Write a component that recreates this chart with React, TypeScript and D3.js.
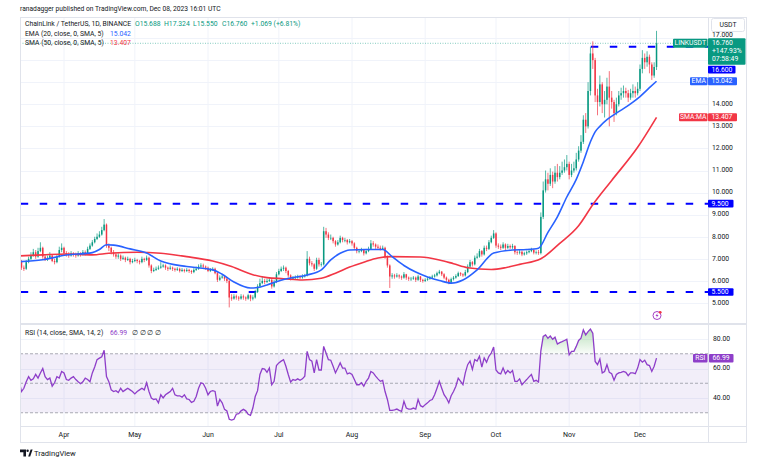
import { useEffect, useRef } from 'react';
import * as d3 from 'd3';

// daily candles from 2023-03-13 to 2023-12-08, open = previous close
const firstOpen = 6.95;
const closes = [
  6.90, 6.60, 6.55, 6.85, 7.00, 7.15, 7.30, 7.10, 7.35, 7.50,
  7.10, 7.00, 7.05, 7.15, 6.90, 6.85, 7.10, 7.40, 7.50, 7.25,
  7.20, 7.15, 7.25, 7.20, 7.15, 7.25, 7.20, 7.30, 7.25, 7.45,
  7.60, 7.75, 7.90, 8.00, 8.10, 8.30, 8.55, 7.60, 7.50, 7.30,
  7.20, 7.10, 7.15, 7.00, 7.05, 6.95, 7.00, 6.85, 6.90, 6.95,
  6.90, 6.85, 7.00, 6.95, 7.05, 6.70, 6.45, 6.50, 6.55, 6.60,
  6.65, 6.70, 6.60, 6.55, 6.60, 6.55, 6.50, 6.55, 6.45, 6.50,
  6.45, 6.50, 6.45, 6.40, 6.50, 6.55, 6.65, 6.70, 6.65, 6.60,
  6.45, 6.50, 6.55, 6.35, 6.05, 6.15, 6.20, 6.10, 6.00, 5.25,
  5.20, 5.30, 5.25, 5.20, 5.30, 5.25, 5.20, 5.35, 5.20, 5.25,
  5.50, 5.75, 5.90, 6.00, 5.95, 6.00, 6.05, 5.75, 5.95, 6.30,
  6.45, 6.55, 6.60, 6.45, 6.25, 6.10, 6.15, 6.15, 6.20, 6.15,
  6.20, 6.25, 7.00, 6.80, 6.75, 6.55, 6.95, 6.75, 6.75, 8.25,
  8.10, 7.95, 7.95, 7.80, 7.65, 7.75, 7.95, 7.85, 7.85, 7.75,
  7.80, 7.70, 7.50, 7.35, 7.35, 7.40, 7.25, 7.35, 7.45, 7.70,
  7.65, 7.55, 7.50, 7.45, 7.50, 7.10, 6.70, 6.20, 6.25, 6.20,
  6.25, 6.20, 6.15, 6.30, 6.15, 6.10, 6.10, 6.15, 6.05, 6.20,
  6.05, 6.00, 6.05, 6.10, 6.15, 6.20, 6.25, 6.35, 6.42, 6.30,
  6.15, 6.05, 5.92, 6.08, 6.15, 6.22, 6.35, 6.30, 6.25, 6.40,
  6.65, 6.85, 6.75, 7.05, 7.10, 7.35, 7.20, 7.50, 7.45, 7.75,
  7.95, 8.15, 7.60, 7.55, 7.50, 7.65, 7.50, 7.58, 7.52, 7.58,
  7.30, 7.28, 7.32, 7.20, 7.25, 7.30, 7.35, 7.40, 7.28, 7.30,
  7.26, 8.90, 10.10, 10.60, 10.40, 10.80, 10.50, 10.90, 10.70, 10.90,
  11.00, 11.15, 11.30, 10.80, 11.00, 11.10, 11.50, 11.90, 12.30, 13.30,
  13.00, 14.60, 16.30, 16.00, 14.40, 14.10, 14.90, 14.00, 14.20, 14.80,
  14.30, 14.10, 13.60, 14.00, 14.40, 14.50, 14.60, 14.50, 14.30, 14.50,
  14.60, 14.50, 14.70, 15.60, 16.10, 15.90, 16.15, 15.80, 15.30, 15.688,
  16.76,
];
const highs = [
  7.05, 6.95, 6.70, 6.95, 7.10, 7.30, 7.45, 7.40, 7.50, 7.75,
  7.55, 7.20, 7.15, 7.30, 7.20, 7.00, 7.20, 7.55, 7.70, 7.55,
  7.35, 7.30, 7.35, 7.30, 7.28, 7.35, 7.30, 7.40, 7.38, 7.55,
  7.70, 7.85, 8.00, 8.15, 8.25, 8.45, 8.80, 8.60, 7.70, 7.55,
  7.40, 7.30, 7.25, 7.20, 7.15, 7.10, 7.10, 7.05, 7.00, 7.05,
  7.00, 6.95, 7.10, 7.05, 7.15, 7.10, 6.75, 6.60, 6.65, 6.70,
  6.85, 6.78, 6.75, 6.65, 6.70, 6.65, 6.60, 6.62, 6.60, 6.58,
  6.55, 6.58, 6.55, 6.50, 6.58, 6.65, 6.75, 6.80, 6.78, 6.70,
  6.65, 6.58, 6.62, 6.60, 6.40, 6.25, 6.30, 6.25, 6.15, 6.05,
  5.40, 5.40, 5.38, 5.32, 5.40, 5.38, 5.30, 5.42, 5.38, 5.35,
  5.60, 5.85, 6.10, 6.20, 6.10, 6.10, 6.15, 6.10, 6.05, 6.40,
  6.55, 6.65, 6.70, 6.65, 6.50, 6.30, 6.22, 6.25, 6.28, 6.25,
  6.30, 6.32, 7.35, 7.10, 6.90, 6.80, 7.05, 7.05, 6.85, 8.45,
  8.40, 8.20, 8.10, 8.00, 7.85, 7.85, 8.05, 8.00, 7.95, 7.90,
  7.90, 7.85, 7.75, 7.55, 7.45, 7.50, 7.45, 7.45, 7.55, 7.85,
  7.80, 7.70, 7.65, 7.60, 7.60, 7.55, 7.15, 6.75, 6.35, 6.32,
  6.35, 6.30, 6.25, 6.40, 6.32, 6.20, 6.18, 6.22, 6.20, 6.28,
  6.22, 6.10, 6.12, 6.18, 6.22, 6.28, 6.32, 6.42, 6.50, 6.45,
  6.35, 6.20, 6.10, 6.15, 6.22, 6.30, 6.42, 6.40, 6.35, 6.50,
  6.75, 6.95, 6.90, 7.15, 7.25, 7.45, 7.40, 7.60, 7.60, 7.85,
  8.05, 8.30, 8.20, 7.70, 7.65, 7.75, 7.70, 7.68, 7.65, 7.68,
  7.62, 7.38, 7.40, 7.38, 7.32, 7.38, 7.45, 7.50, 7.45, 7.38,
  7.40, 9.10, 10.50, 11.00, 10.90, 11.10, 10.95, 11.20, 11.30, 11.20,
  11.40, 11.50, 11.70, 11.40, 11.30, 11.40, 11.80, 12.10, 12.60, 13.50,
  13.60, 15.00, 16.60, 16.85, 16.10, 14.70, 15.30, 15.00, 14.60, 15.20,
  15.50, 14.60, 14.20, 14.30, 14.60, 14.75, 14.85, 14.75, 14.65, 14.70,
  14.90, 14.80, 15.00, 15.80, 16.45, 16.30, 16.40, 16.25, 15.90, 15.90,
  17.324,
];
const lows = [
  6.80, 6.50, 6.45, 6.50, 6.80, 6.95, 7.10, 7.00, 7.05, 7.30,
  7.00, 6.90, 6.90, 7.00, 6.85, 6.75, 6.80, 7.05, 7.30, 7.15,
  7.10, 7.05, 7.10, 7.10, 7.05, 7.10, 7.10, 7.15, 7.15, 7.20,
  7.40, 7.55, 7.70, 7.85, 7.95, 8.05, 8.25, 7.50, 7.35, 7.20,
  7.10, 7.00, 7.00, 6.90, 6.95, 6.85, 6.90, 6.75, 6.80, 6.85,
  6.80, 6.75, 6.80, 6.85, 6.90, 6.60, 6.35, 6.40, 6.45, 6.50,
  6.55, 6.60, 6.50, 6.45, 6.50, 6.45, 6.42, 6.45, 6.38, 6.40,
  6.38, 6.40, 6.36, 6.32, 6.35, 6.45, 6.50, 6.60, 6.55, 6.50,
  6.40, 6.40, 6.45, 6.30, 5.95, 6.00, 6.10, 6.00, 5.90, 4.80,
  5.10, 5.15, 5.15, 5.10, 5.15, 5.15, 5.10, 5.15, 5.08, 5.12,
  5.20, 5.45, 5.70, 5.85, 5.85, 5.90, 5.95, 5.65, 5.70, 5.90,
  6.25, 6.40, 6.45, 6.35, 6.15, 6.02, 6.05, 6.08, 6.10, 6.08,
  6.10, 6.15, 6.20, 6.70, 6.65, 6.45, 6.50, 6.65, 6.65, 6.70,
  7.95, 7.85, 7.85, 7.70, 7.55, 7.60, 7.70, 7.75, 7.75, 7.65,
  7.70, 7.60, 7.40, 7.25, 7.25, 7.30, 7.15, 7.20, 7.30, 7.40,
  7.55, 7.45, 7.40, 7.38, 7.40, 7.00, 6.60, 5.68, 6.10, 6.10,
  6.15, 6.10, 6.05, 6.10, 6.05, 6.00, 6.00, 6.05, 5.95, 6.00,
  5.95, 5.92, 5.95, 6.00, 6.05, 6.10, 6.15, 6.20, 6.30, 6.22,
  6.08, 5.95, 5.85, 5.88, 6.02, 6.10, 6.18, 6.22, 6.18, 6.20,
  6.35, 6.60, 6.65, 6.70, 7.00, 7.05, 7.10, 7.15, 7.35, 7.40,
  7.70, 7.90, 7.50, 7.45, 7.40, 7.45, 7.40, 7.45, 7.45, 7.45,
  7.20, 7.18, 7.20, 7.12, 7.15, 7.18, 7.25, 7.30, 7.20, 7.20,
  7.18, 7.20, 8.80, 10.00, 10.10, 10.30, 10.20, 10.40, 10.50, 10.60,
  10.80, 10.90, 11.00, 10.60, 10.70, 10.90, 11.00, 11.40, 11.80, 12.20,
  12.70, 12.90, 14.40, 15.60, 14.10, 13.50, 13.90, 13.60, 13.40, 14.00,
  13.00, 13.80, 13.20, 13.50, 13.90, 14.20, 14.30, 14.30, 14.10, 14.20,
  14.30, 14.30, 14.40, 14.60, 15.40, 15.60, 15.70, 15.40, 15.10, 15.20,
  15.55,
];

const rsiValues = [
  51.2, 44.4, 46.6, 51, 54.5, 52, 53, 56, 53.5, 57,
  60, 54.5, 52.5, 53.5, 48, 50.3, 54.5, 53.5, 58, 57,
  52.5, 52, 53.5, 54.5, 52.5, 51, 49.7, 51, 53.5, 52.5,
  51, 57, 61, 66, 67, 68, 72.4, 54.5, 51, 45.5,
  44.4, 45, 43.7, 46.6, 44.4, 45.5, 46.6, 45.5, 44.4, 42.8,
  44.4, 45.5, 46.6, 45.5, 50.3, 44.4, 40, 39, 39.4, 36.7,
  42.2, 40, 42.2, 43.3, 44.4, 46.6, 42.2, 41.5, 41.5, 40.6,
  42.2, 39.4, 39, 37, 37.8, 41, 46.6, 50.3, 49.7, 46.6,
  42.2, 44.4, 45, 44.4, 34.5, 39, 36.7, 32.3, 31.3, 25.6,
  25, 25.6, 29, 29.4, 31.3, 32.3, 31.3, 29, 28.3, 33.2,
  41, 45, 56, 60, 59.6, 57.4, 60.3, 49, 51.3, 62,
  63.8, 65, 66, 61.5, 55.9, 50.8, 52.5, 52, 53, 52,
  53, 54.8, 71.6, 66, 65, 57, 66, 59, 59, 75,
  70.5, 66, 65.6, 61.5, 57, 60.3, 63.8, 60.3, 60.3, 56.3,
  57, 55.9, 52.5, 49, 49, 50.3, 48, 51.3, 53.5, 58,
  57, 54.8, 53, 51.3, 52, 44.4, 39, 31.6, 31.6, 32,
  32.5, 31.6, 31, 37.8, 33.2, 32.5, 32.5, 33.2, 32.5, 39,
  34.8, 34, 35.5, 36.7, 38.3, 39, 42.2, 46.6, 51.3, 46.6,
  42.2, 40, 36.7, 41.5, 44.4, 48, 53.5, 51.3, 49, 57,
  62.6, 65, 59.3, 66, 65, 68.3, 61, 67.2, 64.3, 68.3,
  70.5, 74.5, 59, 57, 56.3, 60.3, 56.5, 58.6, 57, 58.6,
  51.3, 51.3, 53, 49, 50.8, 52.5, 54.3, 55.9, 51.3, 52,
  50.8, 72, 81.7, 82.8, 80.5, 82, 79.8, 81.2, 76.6, 77.5,
  78.2, 79, 79.8, 69.3, 71.6, 71.6, 75, 79, 80.5, 86.2,
  82.8, 85, 86.7, 84, 64.8, 62.6, 66.4, 57, 58, 62.6,
  57.4, 56.5, 52, 55.9, 57, 57.4, 58, 57.4, 55.1, 57,
  57, 56.5, 60.3, 66, 64.3, 65.6, 62.6, 62, 58, 61.5,
  66.99,
];

// moving averages (day index, value)
const emaDays = [0, 10, 20, 31, 34, 37, 40, 47, 54, 60, 71, 82, 86, 91, 98, 101, 105, 110, 115, 122, 128, 132, 136, 140, 147, 154, 158, 163, 168, 173, 178, 183, 188, 194, 201, 209, 215, 220, 224, 228, 232, 236, 239, 242, 244, 246, 249, 253, 256, 260, 263, 267, 270];
const emaValues = [6.87, 6.96, 7.17, 7.28, 7.42, 7.64, 7.62, 7.45, 7.26, 6.9, 6.65, 6.5, 6.3, 5.95, 5.68, 5.7, 5.82, 6.0, 6.13, 6.27, 6.5, 6.95, 7.25, 7.4, 7.42, 7.42, 7.1, 6.7, 6.4, 6.18, 6.02, 5.9, 6.04, 6.5, 7.26, 7.4, 7.42, 7.48, 8.2, 8.9, 9.8, 10.6, 11.4, 12.3, 12.75, 13.0, 13.3, 13.6, 13.8, 14.1, 14.35, 14.75, 15.042];
const smaDays = [0, 10, 20, 31, 38, 50, 60, 71, 82, 90, 99, 105, 112, 120, 128, 134, 140, 146, 152, 158, 170, 178, 184, 190, 200, 206, 212, 221, 229, 237, 243, 251, 262, 270];
const smaValues = [7.13, 7.18, 7.22, 7.18, 7.25, 7.3, 7.25, 7.1, 6.9, 6.65, 6.28, 6.15, 6.1, 6.04, 6.12, 6.35, 6.63, 6.85, 7.04, 7.1, 7.08, 6.95, 6.78, 6.6, 6.52, 6.6, 6.75, 7.0, 7.7, 8.5, 9.45, 10.55, 12.05, 13.407];

const priceTicks = [5, 6, 7, 8, 9, 10, 11, 12, 13, 14, 15, 16, 17];
const coveredTicks = [15, 16]; // labels hidden behind the price tags
const rsiTicks = [40, 60, 80];
const rsiLevels = [70, 50, 30];
const supportLevels = [9.5, 5.5];
const resistanceLevel = 16.6;
const monthLabels = ['Apr', 'May', 'Jun', 'Jul', 'Aug', 'Sep', 'Oct', 'Nov', 'Dec'];

const GREEN = '#089981';
const RED = '#f23645';
const BLUE_LINE = '#0000ff';
const EMA_BLUE = '#2962ff';
const PURPLE = '#8e3ec9';
const FRAME = '#e0e3eb';
const GRID = '#f0f3fa';
const TEXT = '#131722';
const FONT = 'Roboto, "Noto Sans", sans-serif';

const App = () => {
  const svgRef = useRef(null);
  const width = 768;
  const height = 463;
  const left = 20, right = 708, axisRight = 747;
  const mainTop = 17, mainBottom = 323, rsiTop = 325, rsiBottom = 426, bottom = 443;

  useEffect(() => {
    const svg = d3.select(svgRef.current);
    svg.selectAll('*').remove();

    const start = Date.UTC(2023, 2, 13);
    const day = (i) => new Date(start + i * 864e5);

    const x = d3.scaleUtc()
      .domain([new Date(Date.UTC(2023, 3, 1)), new Date(Date.UTC(2023, 11, 1))])
      .range([64, 640]);
    const y = d3.scaleLinear().domain([5, 17]).range([303, 38]);
    const yr = d3.scaleLinear().domain([40, 80]).range([398, 339]);

    const defs = svg.append('defs');
    defs.append('clipPath').attr('id', 'mainClip')
      .append('rect').attr('x', left).attr('y', mainTop).attr('width', right - left).attr('height', mainBottom - mainTop);
    defs.append('clipPath').attr('id', 'rsiClip')
      .append('rect').attr('x', left).attr('y', rsiTop).attr('width', right - left).attr('height', rsiBottom - rsiTop);
    const grad = defs.append('linearGradient').attr('id', 'obGrad')
      .attr('gradientUnits', 'userSpaceOnUse')
      .attr('x1', 0).attr('x2', 0).attr('y1', yr(90)).attr('y2', yr(70));
    grad.append('stop').attr('offset', 0).attr('stop-color', '#4caf50').attr('stop-opacity', 0.45);
    grad.append('stop').attr('offset', 1).attr('stop-color', '#4caf50').attr('stop-opacity', 0.03);

    svg.append('rect').attr('width', width).attr('height', height).attr('fill', '#fff');

    // month gridlines and labels
    const months = d3.utcMonth.range(new Date(Date.UTC(2023, 3, 1)), new Date(Date.UTC(2023, 11, 2)));
    svg.append('g').selectAll('line').data(months).enter().append('line')
      .attr('x1', d => x(d)).attr('x2', d => x(d))
      .attr('y1', mainTop).attr('y2', rsiBottom)
      .attr('stroke', GRID).attr('stroke-width', 1);
    svg.append('g').selectAll('line').data(priceTicks).enter().append('line')
      .attr('x1', left).attr('x2', right)
      .attr('y1', d => Math.round(y(d)) + 0.5).attr('y2', d => Math.round(y(d)) + 0.5)
      .attr('stroke', GRID);
    svg.append('g').selectAll('line').data(rsiTicks).enter().append('line')
      .attr('x1', left).attr('x2', right)
      .attr('y1', d => Math.round(yr(d)) + 0.5).attr('y2', d => Math.round(yr(d)) + 0.5)
      .attr('stroke', GRID);

    // main pane
    const main = svg.append('g').attr('clip-path', 'url(#mainClip)');

    // last price dotted line
    main.append('line')
      .attr('x1', left).attr('x2', right)
      .attr('y1', y(closes[closes.length - 1])).attr('y2', y(closes[closes.length - 1]))
      .attr('stroke', GREEN).attr('stroke-width', 0.8).attr('stroke-dasharray', '1 1.5').attr('opacity', 0.6);

    // horizontal levels
    main.selectAll('.level').data(supportLevels).enter().append('line')
      .attr('x1', left + 0.7).attr('x2', right)
      .attr('y1', d => y(d)).attr('y2', d => y(d))
      .attr('stroke', BLUE_LINE).attr('stroke-width', 2).attr('stroke-dasharray', '7.5 11.5');
    main.append('line')
      .attr('x1', x(day(243)) - 2).attr('x2', right)
      .attr('y1', y(resistanceLevel)).attr('y2', y(resistanceLevel))
      .attr('stroke', BLUE_LINE).attr('stroke-width', 2).attr('stroke-dasharray', '7.5 11.5');

    // candles
    const candles = closes.map((c, i) => ({
      date: day(i),
      open: i === 0 ? firstOpen : closes[i - 1],
      close: c,
      high: highs[i],
      low: lows[i],
    }));
    const cg = main.append('g');
    cg.selectAll('line').data(candles).enter().append('line')
      .attr('x1', d => x(d.date)).attr('x2', d => x(d.date))
      .attr('y1', d => y(d.high)).attr('y2', d => y(d.low))
      .attr('stroke', d => (d.close >= d.open ? GREEN : RED))
      .attr('stroke-width', 0.7);
    cg.selectAll('rect').data(candles).enter().append('rect')
      .attr('x', d => x(d.date) - 0.75)
      .attr('width', 1.5)
      .attr('y', d => y(Math.max(d.open, d.close)))
      .attr('height', d => Math.max(0.6, Math.abs(y(d.open) - y(d.close))))
      .attr('fill', d => (d.close >= d.open ? GREEN : RED));

    // moving averages
    const maLine = d3.line().curve(d3.curveMonotoneX);
    main.append('path')
      .attr('d', maLine(smaDays.map((d, i) => [x(day(d)), y(smaValues[i])])))
      .attr('fill', 'none').attr('stroke', RED).attr('stroke-width', 1.6);
    main.append('path')
      .attr('d', maLine(emaDays.map((d, i) => [x(day(d)), y(emaValues[i])])))
      .attr('fill', 'none').attr('stroke', EMA_BLUE).attr('stroke-width', 1.6);

    // RSI pane
    const rsi = svg.append('g').attr('clip-path', 'url(#rsiClip)');
    rsi.append('rect')
      .attr('x', left).attr('width', right - left)
      .attr('y', yr(70)).attr('height', yr(30) - yr(70))
      .attr('fill', 'rgba(126,87,194,0.1)');
    rsi.selectAll('.lvl').data(rsiLevels).enter().append('line')
      .attr('x1', left).attr('x2', right)
      .attr('y1', d => yr(d)).attr('y2', d => yr(d))
      .attr('stroke', '#9598a1').attr('stroke-width', 0.8).attr('stroke-dasharray', '3 2');
    const rsiPts = rsiValues.map((v, i) => ({ date: day(i), v }));
    rsi.append('path')
      .attr('d', d3.area()
        .x(d => x(d.date))
        .y0(yr(70))
        .y1(d => yr(Math.max(70, d.v)))(rsiPts))
      .attr('fill', 'url(#obGrad)');
    rsi.append('path')
      .attr('d', d3.line().x(d => x(d.date)).y(d => yr(d.v))(rsiPts))
      .attr('fill', 'none').attr('stroke', PURPLE).attr('stroke-width', 1.3);

    // frame
    const frame = svg.append('g').attr('fill', 'none').attr('stroke', FRAME);
    frame.append('rect').attr('x', left + 0.5).attr('y', mainTop + 0.5)
      .attr('width', axisRight - left - 1).attr('height', bottom - mainTop - 1);
    frame.append('line').attr('x1', right + 0.5).attr('x2', right + 0.5).attr('y1', mainTop).attr('y2', bottom);
    frame.append('line').attr('x1', left).attr('x2', axisRight).attr('y1', mainBottom + 0.5).attr('y2', mainBottom + 0.5);
    frame.append('line').attr('x1', left).attr('x2', axisRight).attr('y1', rsiTop - 0.5).attr('y2', rsiTop - 0.5);
    frame.append('line').attr('x1', left).attr('x2', axisRight).attr('y1', rsiBottom + 0.5).attr('y2', rsiBottom + 0.5);

    const txt = (g, tx, ty, s, color, size = 6.8, anchor = 'start') =>
      g.append('text').attr('x', tx).attr('y', ty).attr('fill', color)
        .attr('font-size', size).attr('font-family', FONT).attr('text-anchor', anchor)
        .attr('dominant-baseline', 'middle').text(s);

    // price axis labels
    const axis = svg.append('g');
    priceTicks
      .filter(t => !coveredTicks.includes(t))
      .forEach(t => txt(axis, 712, t === 17 ? y(t) - 3.2 : y(t), t.toFixed(3), TEXT));
    rsiTicks.forEach(t => txt(axis, 713, yr(t), t.toFixed(2), TEXT));

    // month labels
    months.forEach((m, i) => txt(axis, x(m), 435, monthLabels[i], TEXT, 7, 'middle'));

    const tag = (tx, ty, w, h, fill, s, anchor = 'start') => {
      axis.append('rect').attr('x', tx).attr('y', ty).attr('width', w).attr('height', h)
        .attr('fill', fill).attr('rx', 1);
      txt(axis, anchor === 'start' ? tx + 3.5 : tx + w / 2, ty + h / 2 + 0.3, s, '#fff', 6.8, anchor);
    };

    // USDT box
    axis.append('rect').attr('x', 711.5).attr('y', 18.5).attr('width', 33).attr('height', 13)
      .attr('rx', 2).attr('fill', '#fff').attr('stroke', FRAME);
    txt(axis, 728, 25.3, 'USDT', TEXT, 6.8, 'middle');

    // last price block
    const lastY = y(closes[closes.length - 1]);
    axis.append('rect').attr('x', 708).attr('y', lastY - 5).attr('width', 37.5).attr('height', 26.5)
      .attr('fill', GREEN).attr('rx', 1);
    txt(axis, 712, lastY, '16.760', '#fff');
    txt(axis, 712, lastY + 8.3, '+147.93%', '#fff');
    txt(axis, 712, lastY + 16, '07:58:49', '#fff');
    tag(673, lastY - 4.5, 34.5, 9, GREEN, 'LINKUSDT', 'middle');

    tag(708, 65.8, 27.5, 7.6, BLUE_LINE, resistanceLevel.toFixed(3));
    tag(690, y(emaValues[emaValues.length - 1]) - 4, 17.5, 8, EMA_BLUE, 'EMA', 'middle');
    tag(708, y(emaValues[emaValues.length - 1]) - 4, 29, 8, EMA_BLUE, emaValues[emaValues.length - 1].toFixed(3));
    tag(679, y(smaValues[smaValues.length - 1]) - 4, 28.5, 8, RED, 'SMA:MA', 'middle');
    tag(708, y(smaValues[smaValues.length - 1]) - 4, 29, 8, RED, smaValues[smaValues.length - 1].toFixed(3));
    supportLevels.forEach(l => tag(708, y(l) - 3.8, 25.5, 7.6, BLUE_LINE, l.toFixed(3)));
    const lastRsi = rsiValues[rsiValues.length - 1];
    tag(693, yr(lastRsi) - 4.3, 14.5, 8.6, PURPLE, 'RSI', 'middle');
    tag(709, yr(lastRsi) - 4.3, 24.5, 8.6, PURPLE, lastRsi.toFixed(2));

    // legends
    const lg = svg.append('g');
    txt(lg, 20, 9, 'ranadagger published on TradingView.com, Dec 08, 2023 16:01 UTC', TEXT, 6.7);
    txt(lg, 25, 24, 'ChainLink / TetherUS, 1D, BINANCE', TEXT);
    txt(lg, 135, 24, 'O15.688', GREEN);
    txt(lg, 164, 24, 'H17.324', GREEN);
    txt(lg, 193, 24, 'L15.550', GREEN);
    txt(lg, 222, 24, 'C16.760', GREEN);
    txt(lg, 251, 24, '+1.069 (+6.81%)', GREEN);
    txt(lg, 25, 34, 'EMA (20, close, 0, SMA, 5)', TEXT);
    txt(lg, 110, 34, emaValues[emaValues.length - 1].toFixed(3), EMA_BLUE);
    txt(lg, 25, 43.5, 'SMA (50, close, 0, SMA, 5)', TEXT);
    txt(lg, 110, 43.5, smaValues[smaValues.length - 1].toFixed(3), RED);
    txt(lg, 25, 333, 'RSI (14, close, SMA, 14, 2)', TEXT);
    txt(lg, 110, 333, lastRsi.toFixed(2), PURPLE);
    txt(lg, 132, 333, '\u2205  \u2205  \u2205  \u2205', TEXT);

    // alert icon
    const icon = svg.append('g').attr('transform', 'translate(657,315.5)');
    icon.append('circle').attr('r', 4).attr('fill', '#fff').attr('stroke', '#a43ec6').attr('stroke-width', 1);
    icon.append('path').attr('d', 'M0.8,-2.6 L-1.6,0.4 L0,0.4 L-0.8,2.6 L1.6,-0.6 L0,-0.6 Z').attr('fill', '#a43ec6');
    icon.append('circle').attr('cx', 3.2).attr('cy', -3.2).attr('r', 1.4).attr('fill', RED);

    // TradingView logo
    const logo = svg.append('g').attr('fill', TEXT);
    logo.append('path').attr('d', 'M20,449.5 h6 v7 h-2.6 v-4.2 h-3.4 z');
    logo.append('circle').attr('cx', 27.6).attr('cy', 450.8).attr('r', 1.2);
    logo.append('path').attr('d', 'M28.2,456.5 L30.6,449.5 L32.6,449.5 L30.2,456.5 z');
    txt(logo, 34, 453.5, 'TradingView', TEXT, 7.6);
  }, []);

  return (
    <svg
      ref={svgRef}
      width={width}
      height={height}
      style={{ position: 'absolute', left: 0, top: 0 }}
    />
  );
};

export default App;
